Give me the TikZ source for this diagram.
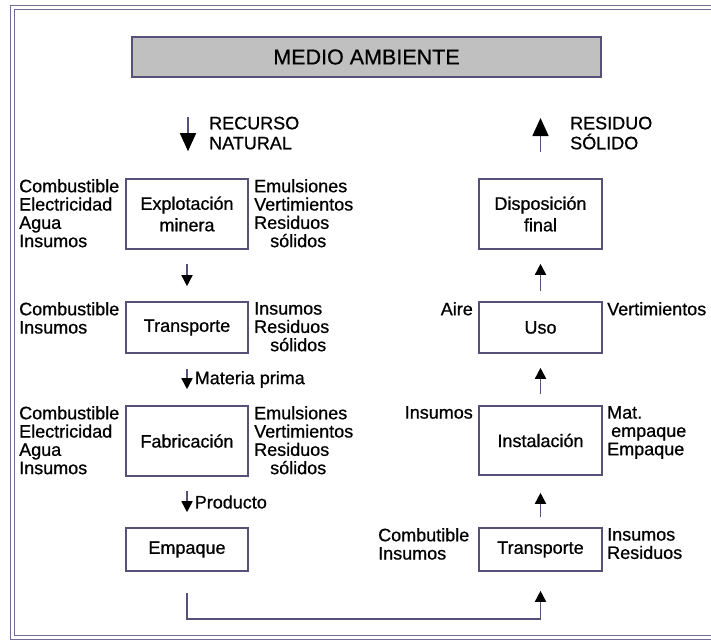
\documentclass[tikz,border=0pt]{standalone}
\usepackage{fontspec}
\setmainfont[FakeBold=0.7]{Liberation Sans}
\usetikzlibrary{arrows.meta}
\definecolor{collinea}{RGB}{88,80,120}
\definecolor{colmarco}{RGB}{115,108,148}
\definecolor{colfondo}{RGB}{192,192,192}
\begin{document}
\begin{tikzpicture}[x=1pt,y=-1pt,
    caja/.style={draw=collinea,line width=1.6pt,minimum width=122pt,inner sep=0pt,align=center,font=\fontsize{18}{21.5}\selectfont},
    etiq/.style={inner sep=0pt,align=left,font=\fontsize{18}{18.3}\selectfont},
    flecha/.style={draw=collinea,line width=1.6pt,-{Triangle[length=11pt,width=11pt,color=black]}},
    flechagrande/.style={draw=collinea,line width=1.6pt,-{Triangle[length=18pt,width=16pt,color=black]}}]
    \useasboundingbox (0,0) rectangle (711,642);
    \draw[colmarco,line width=1.6pt,double=white,double distance=2.4pt] (711,7.5) -- (12.5,7.5) -- (12.5,637.5) -- (711,637.5);
    \node[draw=collinea,line width=1.6pt,fill=colfondo,minimum width=469pt,minimum height=40pt,inner sep=0pt,font=\fontsize{21.5}{24}\selectfont] (medio) at (366.5,57) {MEDIO AMBIENTE};

    \node[caja,minimum height=70pt] (expl) at (187,214) {Explotación\\minera};
    \node[caja,minimum height=51pt] (trans1) at (187,327.5) {Transporte};
    \node[caja,minimum height=70pt] (fab) at (187,441) {Fabricación};
    \node[caja,minimum height=43pt] (emp) at (187,549.5) {Empaque};
    \node[caja,minimum height=70pt,minimum width=123pt] (disp) at (540.5,214) {Disposición\\final};
    \node[caja,minimum height=51pt,minimum width=123pt] (uso) at (540.5,327.5) {Uso};
    \node[caja,minimum height=69pt,minimum width=123pt] (inst) at (540.5,440.5) {Instalación};
    \node[caja,minimum height=43pt,minimum width=123pt] (trans2) at (540.5,549.5) {Transporte};

    \node[etiq,anchor=north west] (expl-ent) at (19,179) {Combustible\\Electricidad\\Agua\\Insumos};
    \node[etiq,anchor=north west] (expl-sal) at (254,179) {Emulsiones\\Vertimientos\\Residuos\\\hspace*{16pt}sólidos};
    \node[etiq,anchor=north west] (trans1-ent) at (19,302) {Combustible\\Insumos};
    \node[etiq,anchor=north west] (trans1-sal) at (254,302) {Insumos\\Residuos\\\hspace*{16pt}sólidos};
    \node[etiq,anchor=north west] (fab-ent) at (19,406) {Combustible\\Electricidad\\Agua\\Insumos};
    \node[etiq,anchor=north west] (fab-sal) at (254,406) {Emulsiones\\Vertimientos\\Residuos\\\hspace*{16pt}sólidos};
    \node[etiq,anchor=north east] (uso-ent) at (473,302) {Aire};
    \node[etiq,anchor=north west] (uso-sal) at (607,302) {Vertimientos};
    \node[etiq,anchor=north east] (inst-ent) at (473,406) {Insumos};
    \node[etiq,anchor=north west] (inst-sal) at (607,406) {Mat.\\\hspace*{4pt}empaque\\Empaque};
    \node[etiq,anchor=north west] (trans2-ent) at (378,528) {Combutible\\Insumos};
    \node[etiq,anchor=north west] (trans2-sal) at (607,528) {Insumos\\Residuos};

    \coordinate (recurso) at (188,117);
    \draw[flechagrande,shorten >=27pt] (recurso) -- (recurso |- expl.north);
    \node[etiq,anchor=north west,font=\fontsize{18}{20}\selectfont] (recurso-txt) at (209,116.5) {RECURSO\\NATURAL};
    \coordinate (residuo) at (540.5,118);
    \draw[flechagrande,shorten <=26pt] (residuo |- disp.north) -- (residuo);
    \node[etiq,anchor=north west,font=\fontsize{18}{20}\selectfont] (residuo-txt) at (570,116.5) {RESIDUO\\SÓLIDO};

    \draw[flecha,shorten <=14pt,shorten >=15pt] (expl) -- (trans1);
    \draw[flecha,shorten <=15pt,shorten >=16pt] (trans1) -- node[etiq,anchor=west,xshift=7pt] (mp) {Materia prima} (fab);
    \draw[flecha,shorten <=14pt,shorten >=15pt] (fab) -- node[etiq,anchor=west,xshift=7pt] (prod) {Producto} (emp);
    \draw[flecha,shorten <=21pt,shorten >=19pt] (emp.south) -- ++(0,47) -| (trans2.south);
    \draw[flecha,shorten <=10pt,shorten >=17pt] (trans2) -- (inst);
    \draw[flecha,shorten <=11pt,shorten >=14pt] (inst) -- (uso);
    \draw[flecha,shorten <=10pt,shorten >=14pt] (uso) -- (disp);
\end{tikzpicture}
\end{document}
